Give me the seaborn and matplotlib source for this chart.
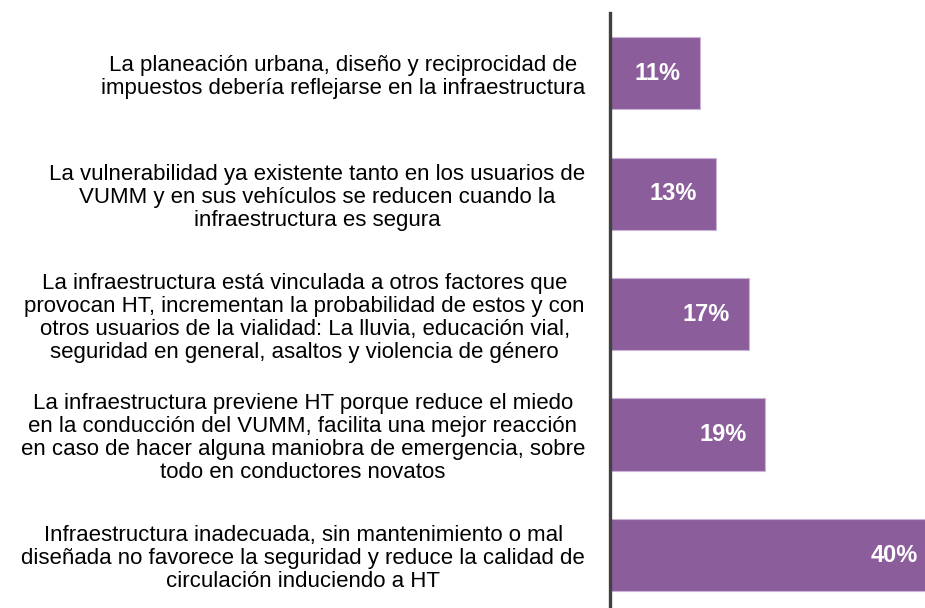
import matplotlib
matplotlib.use("Agg")
import matplotlib.pyplot as plt
from matplotlib.transforms import offset_copy
import seaborn as sns
import pandas as pd

categorias = [
    "La planeación urbana, diseño y reciprocidad de\nimpuestos debería reflejarse en la infraestructura",
    "La vulnerabilidad ya existente tanto en los usuarios de\nVUMM y en sus vehículos se reducen cuando la\ninfraestructura es segura",
    "La infraestructura está vinculada a otros factores que\nprovocan HT, incrementan la probabilidad de estos y con\notros usuarios de la vialidad: La lluvia, educación vial,\nseguridad en general, asaltos y violencia de género",
    "La infraestructura previene HT porque reduce el miedo\nen la conducción del VUMM, facilita una mejor reacción\nen caso de hacer alguna maniobra de emergencia, sobre\ntodo en conductores novatos",
    "Infraestructura inadecuada, sin mantenimiento o mal\ndiseñada no favorece la seguridad y reduce la calidad de\ncirculación induciendo a HT",
]
porcentajes = [11, 13, 17, 19, 40]
etiquetas = ["11%", "13%", "17%", "19%", "40%"]

sns.set_style("white")
plt.rcParams["font.family"] = ["Liberation Sans", "DejaVu Sans"]

df = pd.DataFrame({"categoria": categorias, "porcentaje": porcentajes})

fig = plt.figure(figsize=(9.25, 6.08), dpi=100)
ax = fig.add_axes([610 / 925, 0.0, 315 / 925, 595 / 608])

sns.barplot(data=df, x="porcentaje", y="categoria", orient="h",
            color="#8B5E9B", saturation=1, width=0.6,
            edgecolor="#C9B3D6", linewidth=0.8, ax=ax)

# value labels sit just inside the end of each bar
trans = offset_copy(ax.transData, fig=fig, x=-19, y=0, units="dots")
for i, (v, t) in enumerate(zip(porcentajes, etiquetas)):
    ax.text(v, i, t, color="white", fontsize=17, fontweight="bold",
            ha="right", va="center", transform=trans)

ax.set_xlim(0, 38.5)
ax.set_ylim(4.44, -0.5)
ax.set_xlabel("")
ax.set_ylabel("")
ax.set_xticks([])
for s in ["top", "right", "bottom"]:
    ax.spines[s].set_visible(False)
ax.spines["left"].set_color("#404040")
ax.spines["left"].set_linewidth(2.4)
ax.tick_params(axis="y", length=0, pad=18)
for lbl in ax.get_yticklabels():
    lbl.set_fontsize(16)
    lbl.set_multialignment("center")
    lbl.set_linespacing(1.13)
    lbl.set_color("black")

fig.savefig("out.png", dpi=100)
